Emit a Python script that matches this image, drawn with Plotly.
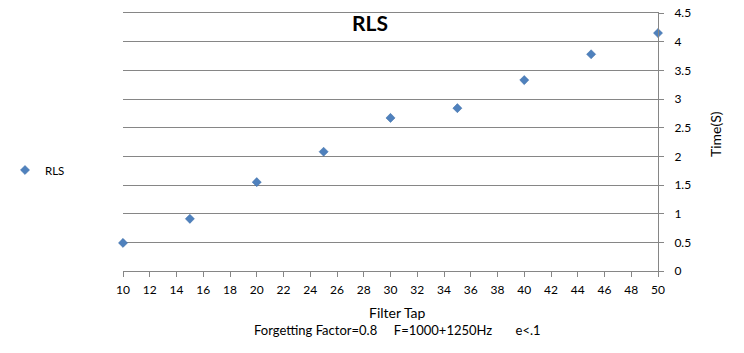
import plotly.graph_objects as go

filter_tap = [10, 15, 20, 25, 30, 35, 40, 45, 50]
time_s = [0.49, 0.91, 1.55, 2.08, 2.67, 2.84, 3.33, 3.78, 4.15]
series_name = "RLS"
x_ticks = list(range(10, 51, 2))
y_ticks = [0, 0.5, 1, 1.5, 2, 2.5, 3, 3.5, 4, 4.5]

FONT = "Lato, 'Open Sans', sans-serif"
L, R, T, B = 123, 86, 13, 82
W, H = 744, 353
pw, ph = W - L - R, H - T - B


def ann(text, px, py, size, angle=0):
    return dict(text=text, x=(px - L) / pw, y=(H - B - py) / ph, xref="paper", yref="paper",
                xanchor="center", yanchor="middle", showarrow=False, textangle=angle,
                font=dict(size=size, family=FONT, color="#000000"))


fig = go.Figure()
fig.add_trace(go.Scatter(
    x=filter_tap, y=time_s, mode="markers", name=series_name, cliponaxis=False,
    marker=dict(symbol="diamond", size=7, color="#4F81BD",
                line=dict(width=0.5, color="#3B6BA5")),
))

fig.update_layout(
    width=W, height=H,
    margin=dict(l=L, r=R, t=T, b=B, autoexpand=False),
    paper_bgcolor="white", plot_bgcolor="white",
    font=dict(family=FONT, size=12, color="#000000"),
    showlegend=True,
    legend=dict(x=(5 - L) / pw, y=(H - B - 170) / ph, xanchor="left", yanchor="middle",
                font=dict(size=11.5, family=FONT), itemwidth=30,
                bgcolor="rgba(0,0,0,0)"),
    xaxis=dict(range=[10, 50], tickvals=x_ticks, showgrid=False, zeroline=False,
               showline=True, linecolor="#868686", linewidth=1, mirror=True,
               ticks="outside", ticklen=5, tickcolor="#868686", ticklabelstandoff=3,
               tickfont=dict(size=12, family=FONT), automargin=False),
    yaxis=dict(range=[0, 4.5], tickvals=y_ticks, side="right",
               showgrid=True, gridcolor="#868686", gridwidth=1, zeroline=False,
               showline=True, linecolor="#868686", linewidth=1,
               ticks="outside", ticklen=5, tickcolor="#868686", ticklabelstandoff=8,
               tickfont=dict(size=12, family=FONT), automargin=False),
    annotations=[
        ann("<b>RLS</b>", 370, 23, 21),
        ann("Filter Tap", 398, 312, 14),
        ann("Forgetting Factor=0.8&nbsp;&nbsp;&nbsp;&nbsp;&nbsp;F=1000+1250Hz&nbsp;&nbsp;&nbsp;&nbsp;&nbsp;&nbsp;&nbsp;e&lt;.1",
            397, 330, 13),
        ann("Time(S)", 715, 134, 14, -90),
    ],
)

fig.write_html("out.html")
